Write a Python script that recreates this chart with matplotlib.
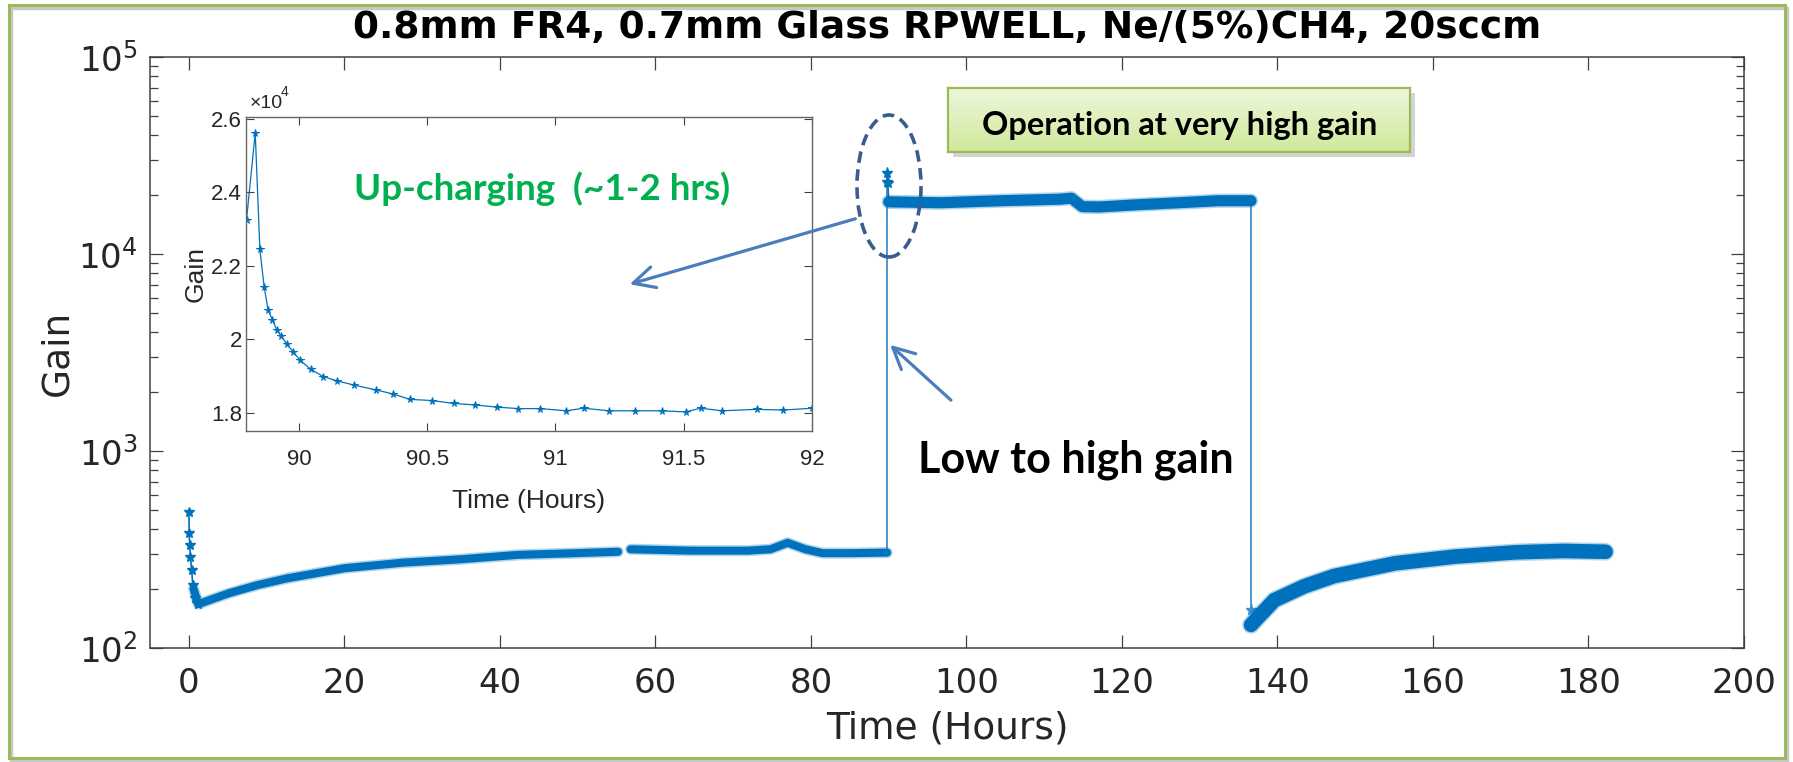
import numpy as np
import matplotlib
matplotlib.use("Agg")
import matplotlib.pyplot as plt
import matplotlib.font_manager as fm
from matplotlib.patches import Ellipse, Rectangle, FancyArrowPatch
from matplotlib.colors import LinearSegmentedColormap
from matplotlib.ticker import FixedLocator, NullLocator, FuncFormatter

# ---- data (time in hours, gain) ----
# start-up spike at t~0 (thin line with stars)
spike0_t = [0.0, 0.05, 0.1, 0.2, 0.35, 0.5, 0.8, 1.2]
spike0_g = [490, 384, 333, 290, 250, 210, 180, 167]

# low gain, first part
seg_a_t = [0.6, 1.2, 5.2, 8.9, 12.7, 20.0, 27.5, 34.9, 42.3, 49.7, 55.2]
seg_a_g = [200, 167, 190, 209, 226, 254, 271, 282, 297, 303, 308]

# low gain, after the short gap
seg_b_t = [56.8, 57.0, 64.5, 71.9, 74.8, 77.0, 79.3, 81.5, 85.2, 89.8]
seg_b_g = [317, 317, 312, 312, 317, 342, 317, 303, 303, 305]

# very high gain plateau
spike1_t = [89.8, 89.83, 89.9, 90.0]
spike1_g = [23250, 25700, 22800, 18400]
seg_c_t = [90.0, 96.7, 104.4, 112.0, 113.5, 114.9, 117.1, 122.2, 127.3, 132.4, 136.6]
seg_c_g = [18400, 18200, 18640, 18970, 19200, 17390, 17330, 17800, 18200, 18640, 18640]

# back to low gain
seg_d_t = [136.6, 137.2, 139.6, 143.5, 147.3, 155.1, 162.8, 170.6, 176.8, 182.2]
seg_d_g = [131, 139, 175, 206, 232, 269, 291, 306, 311, 308]
drop_star_g = 156

# inset: up-charging detail
inset_t = [89.796, 89.83, 89.848, 89.865, 89.88, 89.897, 89.914, 89.93, 89.953,
           89.978, 90.003, 90.046, 90.096, 90.147, 90.215, 90.30, 90.366, 90.434,
           90.519, 90.603, 90.687, 90.772, 90.856, 90.941, 91.042, 91.11, 91.21,
           91.31, 91.414, 91.507, 91.566, 91.65, 91.785, 91.887, 92.0]
inset_g = [23250, 25620, 22450, 21410, 20800, 20530, 20250, 20100, 19870,
           19660, 19440, 19180, 18980, 18870, 18750, 18620, 18510, 18360,
           18330, 18250, 18210, 18150, 18110, 18110, 18050, 18120, 18050,
           18050, 18050, 18020, 18120, 18050, 18090, 18070, 18120]

x_ticks = [0, 20, 40, 60, 80, 100, 120, 140, 160, 180, 200]
inset_x_ticks = [90, 90.5, 91, 91.5, 92]
inset_y_ticks = [18000, 20000, 22000, 24000, 26000]

title = "0.8mm FR4, 0.7mm Glass RPWELL, Ne/(5%)CH4, 20sccm"

# ---- fonts ----
names = {f.name for f in fm.fontManager.ttflist}
narrow = "Liberation Sans Narrow" if "Liberation Sans Narrow" in names else "Liberation Sans"
callout = "Lato" if "Lato" in names else "Open Sans"

W, H = 1793, 762
blue = "#0072BD"
arrow_c = "#4A7EBB"


def fx(x):
    return x / W


def fy(y):
    return 1 - y / H


fig = plt.figure(figsize=(W / 100, H / 100), dpi=100)

# ---- main axes ----
ax = fig.add_axes([fx(150), fy(648), fx(1744) - fx(150), fy(57) - fy(648)])
ax.patch.set_alpha(0)
ax.set_yscale("log")
ax.set_xlim(-5, 200)
ax.set_ylim(1e2, 1e5)

# thin connecting line through everything (as MATLAB '-*')
ax.plot(spike0_t, spike0_g, "-*", color=blue, lw=1.2, ms=7, mew=1)
ax.plot([seg_b_t[-1], spike1_t[0]], [seg_b_g[-1], spike1_g[0]], "-", color="#3d8fd0", lw=1.3)
ax.plot(spike1_t, spike1_g, "-*", color=blue, lw=1.2, ms=8, mew=1)
ax.plot([seg_c_t[-1], seg_d_t[0]], [seg_c_g[-1], drop_star_g], "-*", color="#3d8fd0", lw=1.3,
        ms=8, markevery=[1])
# thick bands (dense star markers in the original), soft edge + core
for t, g, w in [(seg_a_t, seg_a_g, 5.8), (seg_b_t, seg_b_g, 5.8),
                (seg_c_t, seg_c_g, 8.0), (seg_d_t, seg_d_g, 10.5)]:
    ax.plot(t, g, "-", color=blue, lw=w + 2.2, alpha=0.3, solid_capstyle="round")
    ax.plot(t, g, "-", color=blue, lw=w, solid_capstyle="round")

ax.xaxis.set_major_locator(FixedLocator(x_ticks))
ax.xaxis.set_minor_locator(NullLocator())
ax.tick_params(which="both", direction="in", top=True, right=True, color="#404040",
               labelcolor="#262626", labelsize=24.5, width=0.9)
ax.tick_params(which="major", length=9.5)
ax.tick_params(which="minor", length=5.5)
ax.tick_params(axis="x", pad=14)
ax.tick_params(axis="y", pad=9)
for s in ax.spines.values():
    s.set_color("#404040")
    s.set_linewidth(1.1)
ax.set_xlabel("Time (Hours)", fontsize=27, color="#262626")
ax.xaxis.set_label_coords(0.5, -0.105)
ax.set_ylabel("Gain", fontsize=27, color="#262626")
ax.yaxis.set_label_coords(-0.047, 0.5)

fig.text(fx(947), fy(38), title, ha="center", va="baseline", fontsize=27,
         fontweight="bold", color="black")

# ---- inset ----
axi = fig.add_axes([fx(246), fy(431), fx(812) - fx(246), fy(117) - fy(431)], zorder=3)
axi.plot(inset_t, inset_g, "-*", color=blue, lw=0.9, ms=5.5, mew=0.7)
axi.set_xlim(89.794, 92)
axi.set_ylim(17500, 26050)
axi.xaxis.set_major_locator(FixedLocator(inset_x_ticks))
axi.yaxis.set_major_locator(FixedLocator(inset_y_ticks))
axi.xaxis.set_major_formatter(FuncFormatter(lambda v, p: f"{v:g}"))
axi.yaxis.set_major_formatter(FuncFormatter(lambda v, p: f"{v / 1e4:g}"))
axi.tick_params(direction="in", top=True, right=True, length=6, width=0.8, color="#404040",
                labelcolor="#262626", labelsize=16)
axi.tick_params(axis="x", pad=13)
axi.tick_params(axis="y", pad=3)
for lab in axi.get_xticklabels() + axi.get_yticklabels():
    lab.set_family(narrow)
for s in axi.spines.values():
    s.set_color("#666666")
    s.set_linewidth(1.0)
axi.set_xlabel("Time (Hours)", fontsize=19, family=narrow, color="#262626")
axi.xaxis.set_label_coords(0.5, -0.185)
axi.set_ylabel("Gain", fontsize=19, family=narrow, color="#262626")
axi.yaxis.set_label_coords(-0.068, 0.5)
fig.text(fx(250), fy(108), "\u00d710", fontsize=14, family=narrow, color="#262626", va="baseline")
fig.text(fx(281), fy(96), "4", fontsize=10, family=narrow, color="#262626", va="baseline")

# ---- callouts ----
fig.text(fx(354), fy(200), "Up-charging  (~1-2 hrs)", fontsize=26.5, family=callout,
         fontweight="bold", color="#00B050", va="baseline", zorder=6)
fig.text(fx(918), fy(473), "Low to high gain", fontsize=31, family=callout,
         fontweight="bold", color="black", va="baseline", zorder=6)

fig.add_artist(Ellipse((fx(889), fy(186)), 64 / W, 142 / H, transform=fig.transFigure,
                       fill=False, ec="#3B5C8E", lw=2.6, ls=(0, (3.2, 1.8)), zorder=6))
for (x0, y0), (x1, y1) in [((858, 218), (627, 285)), ((953, 402), (888, 343))]:
    fig.add_artist(FancyArrowPatch((fx(x0), fy(y0)), (fx(x1), fy(y1)), transform=fig.transFigure,
                                   arrowstyle="->,head_length=0.7,head_width=0.35",
                                   mutation_scale=22, lw=2.3, color=arrow_c, zorder=6))

# green box with gradient and shadow
fig.add_artist(Rectangle((fx(953), fy(157)), 462 / W, 64 / H, transform=fig.transFigure,
                         fc="#a0a0a0", ec="none", alpha=0.45, zorder=4))
bax = fig.add_axes([fx(948), fy(152), 462 / W, 64 / H], zorder=5)
grad = LinearSegmentedColormap.from_list("g", ["#EEF7DC", "#CFE99A"])
bax.imshow(np.linspace(0, 1, 64).reshape(-1, 1), aspect="auto", cmap=grad,
           extent=[0, 1, 0, 1])
bax.set_xticks([])
bax.set_yticks([])
for s in bax.spines.values():
    s.set_color("#9BBB59")
    s.set_linewidth(1.6)
fig.text(fx(1180), fy(135), "Operation at very high gain", ha="center", va="baseline",
         fontsize=23.5, family=callout, fontweight="bold", color="black", zorder=7)

# slide frame
fig.add_artist(Rectangle((fx(11), fy(761)), (1787 - 11) / W, (761 - 8) / H,
                         transform=fig.transFigure, fill=False, ec="#c8c8c8", lw=2.5, zorder=0))
fig.add_artist(Rectangle((fx(8.5), fy(758)), (1785 - 8.5) / W, (758 - 5) / H,
                         transform=fig.transFigure, fill=False, ec="#9BBB59", lw=2.2, zorder=1))

fig.savefig("out.png", dpi=100)
